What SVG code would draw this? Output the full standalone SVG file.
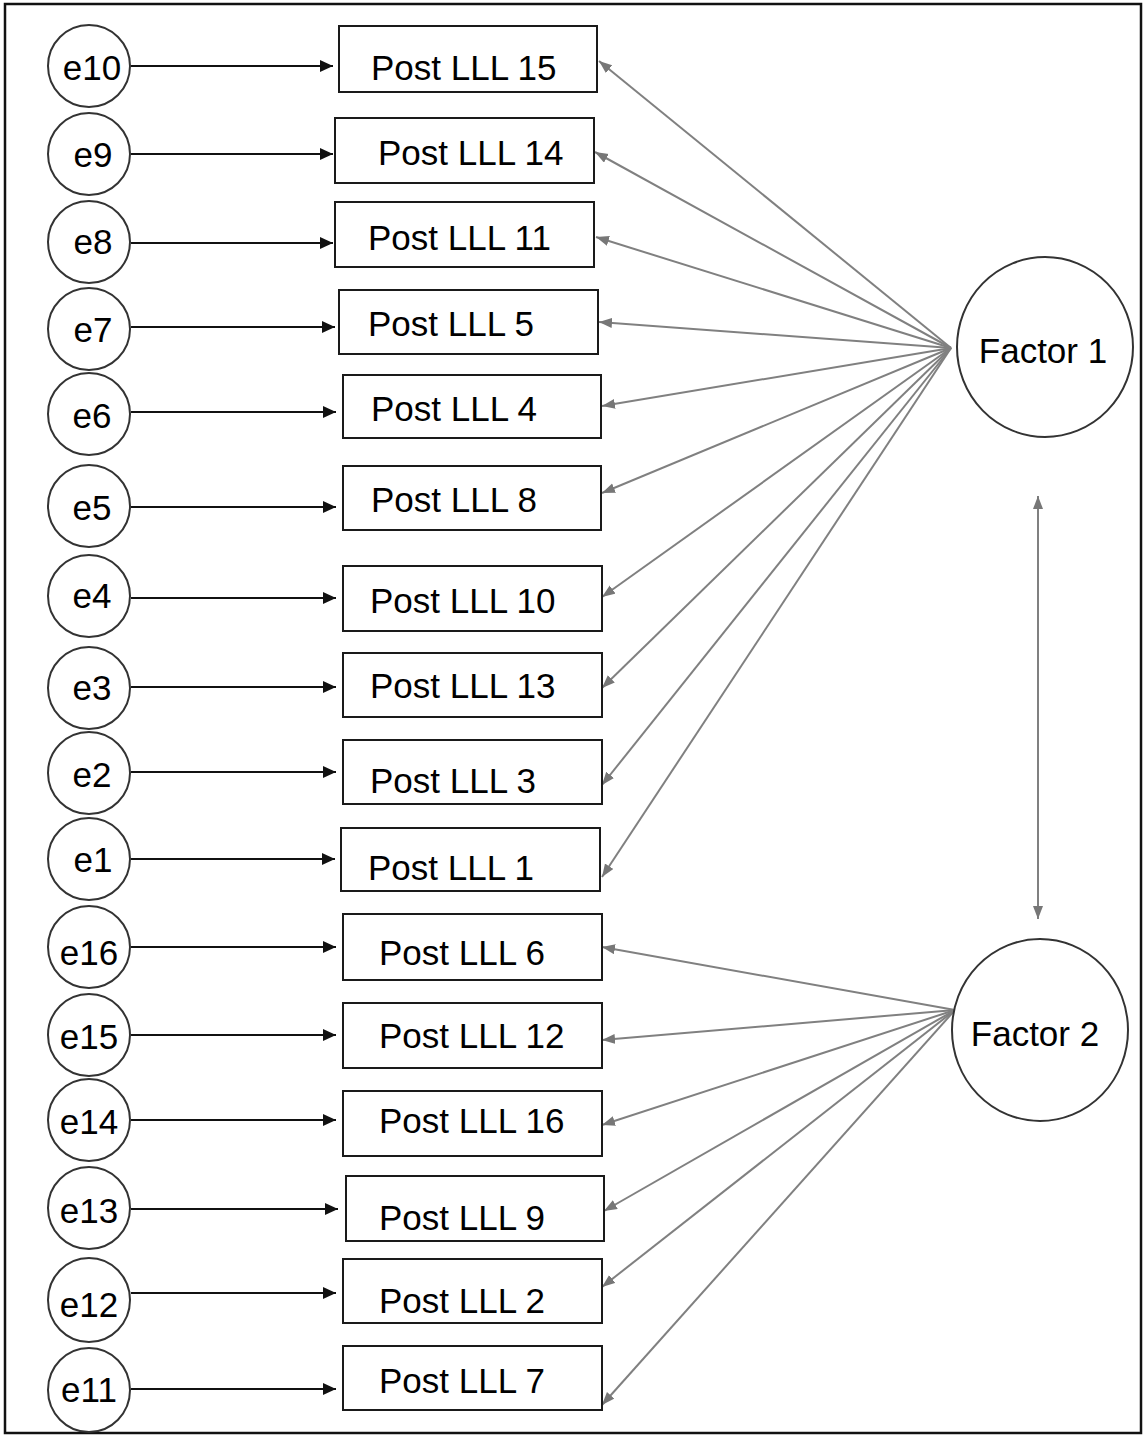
<svg xmlns="http://www.w3.org/2000/svg" width="1143" height="1435" viewBox="0 0 1143 1435">
<style>
text{font-family:"Liberation Sans",Arial,sans-serif;fill:#000}
.lbl{font-size:35px}
.et{font-size:35px;text-anchor:middle}
.ft{font-size:35px;text-anchor:middle}
.box{fill:#fff;stroke:#1a1a1a;stroke-width:2}
.circ{fill:#fff;stroke:#333;stroke-width:2}
.blk{stroke:#111;stroke-width:2;fill:none;marker-end:url(#ab)}
.gry{stroke:#808080;stroke-width:2;fill:none;marker-end:url(#ag)}
</style>
<defs>
<marker id="ab" markerUnits="userSpaceOnUse" markerWidth="14" markerHeight="12" refX="13" refY="6" orient="auto"><path d="M0,0 L13,6 L0,12 Z" fill="#111"/></marker>
<marker id="ag" markerUnits="userSpaceOnUse" markerWidth="14" markerHeight="12" refX="13" refY="5" orient="auto"><path d="M0,0 L13,5 L0,10 Z" fill="#777"/></marker>
<marker id="ags" markerUnits="userSpaceOnUse" markerWidth="14" markerHeight="12" refX="13" refY="5" orient="auto-start-reverse"><path d="M0,0 L13,5 L0,10 Z" fill="#777"/></marker>
</defs>
<rect x="5" y="4" width="1136" height="1429" fill="#fff" stroke="#111" stroke-width="2.5"/>

<g id="connectors">
<line class="blk" x1="131" y1="66" x2="333" y2="66"/>
<line class="blk" x1="131" y1="154" x2="333" y2="154"/>
<line class="blk" x1="131" y1="243" x2="333" y2="243"/>
<line class="blk" x1="131" y1="327" x2="335" y2="327"/>
<line class="blk" x1="131" y1="412" x2="336" y2="412"/>
<line class="blk" x1="131" y1="507" x2="336" y2="507"/>
<line class="blk" x1="131" y1="598" x2="336" y2="598"/>
<line class="blk" x1="131" y1="687" x2="336" y2="687"/>
<line class="blk" x1="131" y1="772" x2="336" y2="772"/>
<line class="blk" x1="131" y1="859" x2="335" y2="859"/>
<line class="blk" x1="131" y1="947" x2="336" y2="947"/>
<line class="blk" x1="131" y1="1035" x2="336" y2="1035"/>
<line class="blk" x1="131" y1="1120" x2="336" y2="1120"/>
<line class="blk" x1="131" y1="1209" x2="338" y2="1209"/>
<line class="blk" x1="131" y1="1293" x2="336" y2="1293"/>
<line class="blk" x1="131" y1="1389" x2="336" y2="1389"/>

<line class="gry" x1="951" y1="348" x2="599" y2="61"/>
<line class="gry" x1="951" y1="348" x2="595" y2="152"/>
<line class="gry" x1="951" y1="348" x2="596" y2="237"/>
<line class="gry" x1="951" y1="348" x2="599" y2="322"/>
<line class="gry" x1="951" y1="348" x2="602" y2="406"/>
<line class="gry" x1="951" y1="348" x2="602" y2="493"/>
<line class="gry" x1="951" y1="348" x2="602" y2="597"/>
<line class="gry" x1="951" y1="348" x2="602" y2="688"/>
<line class="gry" x1="951" y1="348" x2="602" y2="785"/>
<line class="gry" x1="951" y1="348" x2="602" y2="877"/>

<line class="gry" x1="955" y1="1010" x2="602" y2="947"/>
<line class="gry" x1="955" y1="1010" x2="602" y2="1040"/>
<line class="gry" x1="955" y1="1010" x2="602" y2="1125"/>
<line class="gry" x1="955" y1="1010" x2="604" y2="1211"/>
<line class="gry" x1="955" y1="1010" x2="602" y2="1287"/>
<line class="gry" x1="955" y1="1010" x2="602" y2="1405"/>

<line x1="1038" y1="496" x2="1038" y2="919" stroke="#808080" stroke-width="2" marker-start="url(#ags)" marker-end="url(#ag)"/>
</g>

<g id="e10"><ellipse class="circ" cx="89" cy="66" rx="41" ry="41"/><text class="et" x="92" y="80">e10</text></g>
<g id="e9"><ellipse class="circ" cx="89" cy="154" rx="41" ry="41"/><text class="et" x="93" y="167">e9</text></g>
<g id="e8"><ellipse class="circ" cx="89" cy="242" rx="41" ry="41"/><text class="et" x="93" y="254">e8</text></g>
<g id="e7"><ellipse class="circ" cx="89" cy="329" rx="41" ry="41"/><text class="et" x="93" y="342">e7</text></g>
<g id="e6"><ellipse class="circ" cx="89" cy="414" rx="41" ry="41"/><text class="et" x="92" y="428">e6</text></g>
<g id="e5"><ellipse class="circ" cx="89" cy="506" rx="41" ry="41"/><text class="et" x="92" y="520">e5</text></g>
<g id="e4"><ellipse class="circ" cx="89" cy="596" rx="41" ry="41"/><text class="et" x="92" y="608">e4</text></g>
<g id="e3"><ellipse class="circ" cx="89" cy="688" rx="41" ry="41"/><text class="et" x="92" y="700">e3</text></g>
<g id="e2"><ellipse class="circ" cx="89" cy="773" rx="41" ry="41"/><text class="et" x="92" y="787">e2</text></g>
<g id="e1"><ellipse class="circ" cx="89" cy="859" rx="41" ry="41"/><text class="et" x="93" y="872">e1</text></g>
<g id="e16"><ellipse class="circ" cx="89" cy="947" rx="41" ry="41"/><text class="et" x="89" y="965">e16</text></g>
<g id="e15"><ellipse class="circ" cx="89" cy="1035" rx="41" ry="41"/><text class="et" x="89" y="1049">e15</text></g>
<g id="e14"><ellipse class="circ" cx="89" cy="1120" rx="41" ry="41"/><text class="et" x="89" y="1134">e14</text></g>
<g id="e13"><ellipse class="circ" cx="89" cy="1208" rx="41" ry="41"/><text class="et" x="89" y="1223">e13</text></g>
<g id="e12"><ellipse class="circ" cx="89" cy="1300" rx="41" ry="42"/><text class="et" x="89" y="1317">e12</text></g>
<g id="e11"><ellipse class="circ" cx="89" cy="1390" rx="41" ry="42"/><text class="et" x="89" y="1402">e11</text></g>

<g id="post15"><rect class="box" x="339" y="26" width="258" height="66"/><text class="lbl" x="371" y="80">Post LLL 15</text></g>
<g id="post14"><rect class="box" x="335" y="118" width="259" height="65"/><text class="lbl" x="378" y="165">Post LLL 14</text></g>
<g id="post11"><rect class="box" x="335" y="202" width="259" height="65"/><text class="lbl" x="368" y="250">Post LLL 11</text></g>
<g id="post5"><rect class="box" x="339" y="290" width="259" height="64"/><text class="lbl" x="368" y="336">Post LLL 5</text></g>
<g id="post4"><rect class="box" x="343" y="375" width="258" height="63"/><text class="lbl" x="371" y="421">Post LLL 4</text></g>
<g id="post8"><rect class="box" x="343" y="466" width="258" height="64"/><text class="lbl" x="371" y="512">Post LLL 8</text></g>
<g id="post10"><rect class="box" x="343" y="566" width="259" height="65"/><text class="lbl" x="370" y="613">Post LLL 10</text></g>
<g id="post13"><rect class="box" x="343" y="653" width="259" height="64"/><text class="lbl" x="370" y="698">Post LLL 13</text></g>
<g id="post3"><rect class="box" x="343" y="740" width="259" height="64"/><text class="lbl" x="370" y="793">Post LLL 3</text></g>
<g id="post1"><rect class="box" x="341" y="828" width="259" height="63"/><text class="lbl" x="368" y="880">Post LLL 1</text></g>
<g id="post6"><rect class="box" x="343" y="914" width="259" height="66"/><text class="lbl" x="379" y="965">Post LLL 6</text></g>
<g id="post12"><rect class="box" x="343" y="1003" width="259" height="65"/><text class="lbl" x="379" y="1048">Post LLL 12</text></g>
<g id="post16"><rect class="box" x="343" y="1091" width="259" height="65"/><text class="lbl" x="379" y="1133">Post LLL 16</text></g>
<g id="post9"><rect class="box" x="346" y="1176" width="258" height="65"/><text class="lbl" x="379" y="1230">Post LLL 9</text></g>
<g id="post2"><rect class="box" x="343" y="1259" width="259" height="64"/><text class="lbl" x="379" y="1313">Post LLL 2</text></g>
<g id="post7"><rect class="box" x="343" y="1346" width="259" height="64"/><text class="lbl" x="379" y="1393">Post LLL 7</text></g>

<g id="factor1"><ellipse class="circ" cx="1045" cy="347" rx="88" ry="90"/><text class="ft" x="1043" y="363">Factor 1</text></g>
<g id="factor2"><ellipse class="circ" cx="1040" cy="1030" rx="88" ry="91"/><text class="ft" x="1035" y="1046">Factor 2</text></g>
</svg>
